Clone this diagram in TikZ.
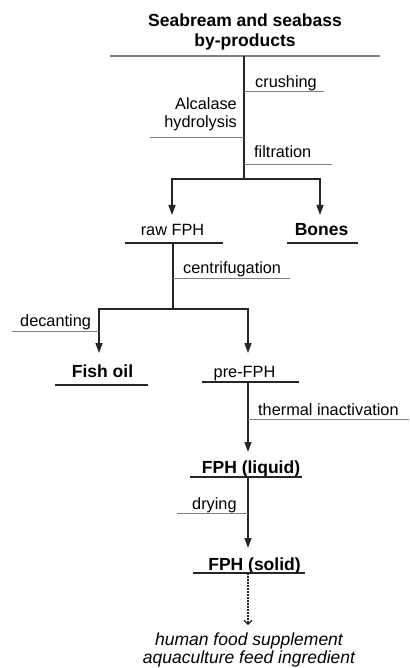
\documentclass[tikz,border=0pt]{standalone}
\usepackage{fontspec}
\setmainfont{Liberation Sans}
\usetikzlibrary{arrows.meta}

\begin{document}
\begin{tikzpicture}[x=1pt,y=-1pt]

\tikzset{prod/.style={font=\fontsize{17.5}{20}\selectfont\bfseries,anchor=base,inner sep=0pt},
         inter/.style={font=\fontsize{16.3}{19}\selectfont,anchor=base,inner sep=0pt},
         steplabel/.style={font=\fontsize{16.3}{18}\selectfont,anchor=base west,inner sep=0pt},
         thinrule/.style={gray,line width=0.9pt},
         prodrule/.style={black!85,line width=1.4pt},
         flow/.style={black!85,line width=1.3pt},
         tip/.style={-{Triangle[length=10pt,width=7pt]}}}

\useasboundingbox (0,0) rectangle (409,668);

% source
\node[prod,align=center,anchor=south] (src) at (245,50.5) {Seabream and seabass\\by-products};
\draw[gray,line width=1.3pt] (110,56) -- (380,56);

\coordinate (top) at (244,56);
\coordinate (split1) at (244,179);
\coordinate (rawin) at (172,215);
\coordinate (bonesin) at (320,215);

\draw[flow] (top) -- (split1);
\draw[flow,tip] (split1) -| (rawin);
\draw[flow,tip] (split1) -| (bonesin);

\node[steplabel] (crush) at (255,88) {crushing};
\draw[thinrule] (244,91) -- (324,91);

\node[font=\fontsize{16.3}{18}\selectfont,align=right,anchor=south east,inner sep=0pt] (hydro) at (237,131.5) {Alcalase\\hydrolysis};
\draw[thinrule] (150,137) -- (244,137);

\node[steplabel] (filt) at (254,158) {filtration};
\draw[thinrule] (244,164) -- (332,164);

% first split
\node[inter] (raw) at (172.5,235) {raw FPH};
\draw[prodrule] (125,243) -- (223,243);

\node[prod] (bones) at (321.5,235) {Bones};
\draw[prodrule] (287,243) -- (358,243);

\coordinate (rawout) at (173,243);
\coordinate (split2) at (173,309);
\coordinate (fishin) at (99,353);
\coordinate (prein) at (248,353);

\draw[flow] (rawout) -- (split2);
\draw[flow,tip] (split2) -| (fishin);
\draw[flow,tip] (split2) -| (prein);

\node[steplabel] (centr) at (183,273) {centrifugation};
\draw[thinrule] (173,278) -- (290,278);

\node[steplabel] (decant) at (20,326) {decanting};
\draw[thinrule] (12,331) -- (99,331);

% second split
\node[prod] (oil) at (102.5,377) {Fish oil};
\draw[prodrule] (55,385) -- (148,385);

\node[inter] (pre) at (244.5,377) {pre-FPH};
\draw[prodrule] (202,382) -- (299,382);

\coordinate (preout) at (248,382);
\coordinate (liqin) at (248,452);
\draw[flow,tip] (preout) -- (liqin);

\node[steplabel] (therm) at (258,415) {thermal inactivation};
\draw[thinrule] (248,419) -- (409,419);

\node[prod] (liq) at (251,473) {FPH (liquid)};
\draw[prodrule] (190,477) -- (302,477);

\coordinate (liqout) at (248,477);
\coordinate (solin) at (248,548);
\draw[flow,tip] (liqout) -- (solin);

\node[steplabel] (dry) at (192,509) {drying};
\draw[thinrule] (177,513) -- (248,513);

\node[prod] (sol) at (254.5,570) {FPH (solid)};
\draw[prodrule] (193,573) -- (305,573);

% uses
\coordinate (solout) at (248,573);
\coordinate (usein) at (248,625);
\draw[black!85,line width=1.6pt,dash pattern=on 1.6pt off 1.4pt,
      -{Straight Barb[length=4pt,width=8pt,line width=1.2pt]}] (solout) -- (usein);

\node[font=\fontsize{17.5}{18}\selectfont\itshape,align=center,anchor=north,inner sep=0pt] (use) at (249,632.2) {human food supplement\\aquaculture feed ingredient};

\end{tikzpicture}
\end{document}
